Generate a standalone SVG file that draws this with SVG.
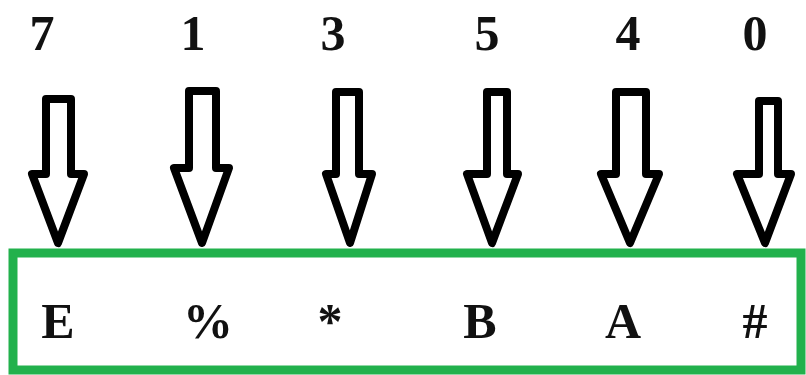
<svg xmlns="http://www.w3.org/2000/svg" width="806" height="375" viewBox="0 0 806 375">
<style>
.t{font-family:"Liberation Serif","DejaVu Serif",serif;font-weight:bold;font-size:50px;fill:#111;text-anchor:middle}
.a{fill:none;stroke:#000;stroke-width:8;stroke-linejoin:round}
</style>
<rect width="806" height="375" fill="#fff"/>
<g id="labels">
<text class="t" x="42" y="50">7</text>
<text class="t" x="193" y="50">1</text>
<text class="t" x="333" y="50">3</text>
<text class="t" x="487" y="50">5</text>
<text class="t" x="628" y="50">4</text>
<text class="t" x="755" y="50">0</text>
</g>
<g id="connectors">
<path class="a" d="M46,174 V99 H71 V174 H84 L58,243 L32,174 Z"/>
<path class="a" d="M189,168 V91 H216 V168 H229 L202,243 L174,168 Z"/>
<path class="a" d="M336,174 V92 H359 V174 H372 L350,243 L326,174 Z"/>
<path class="a" d="M487,174 V92 H507 V174 H518 L492,243 L467,174 Z"/>
<path class="a" d="M616,174 V92 H646 V174 H659 L630,243 L601,174 Z"/>
<path class="a" d="M759,174 V101 H778 V174 H791 L765,243 L737,174 Z"/>
</g>
<g id="array">
<rect x="13" y="253" width="788" height="117" fill="none" stroke="#22b14c" stroke-width="9"/>
<text class="t" x="58" y="338">E</text>
<text class="t" x="208" y="338">%</text>
<text class="t" x="330" y="338">*</text>
<text class="t" x="480" y="338">B</text>
<text class="t" x="623" y="338">A</text>
<text class="t" x="755" y="338">#</text>
</g>
</svg>
